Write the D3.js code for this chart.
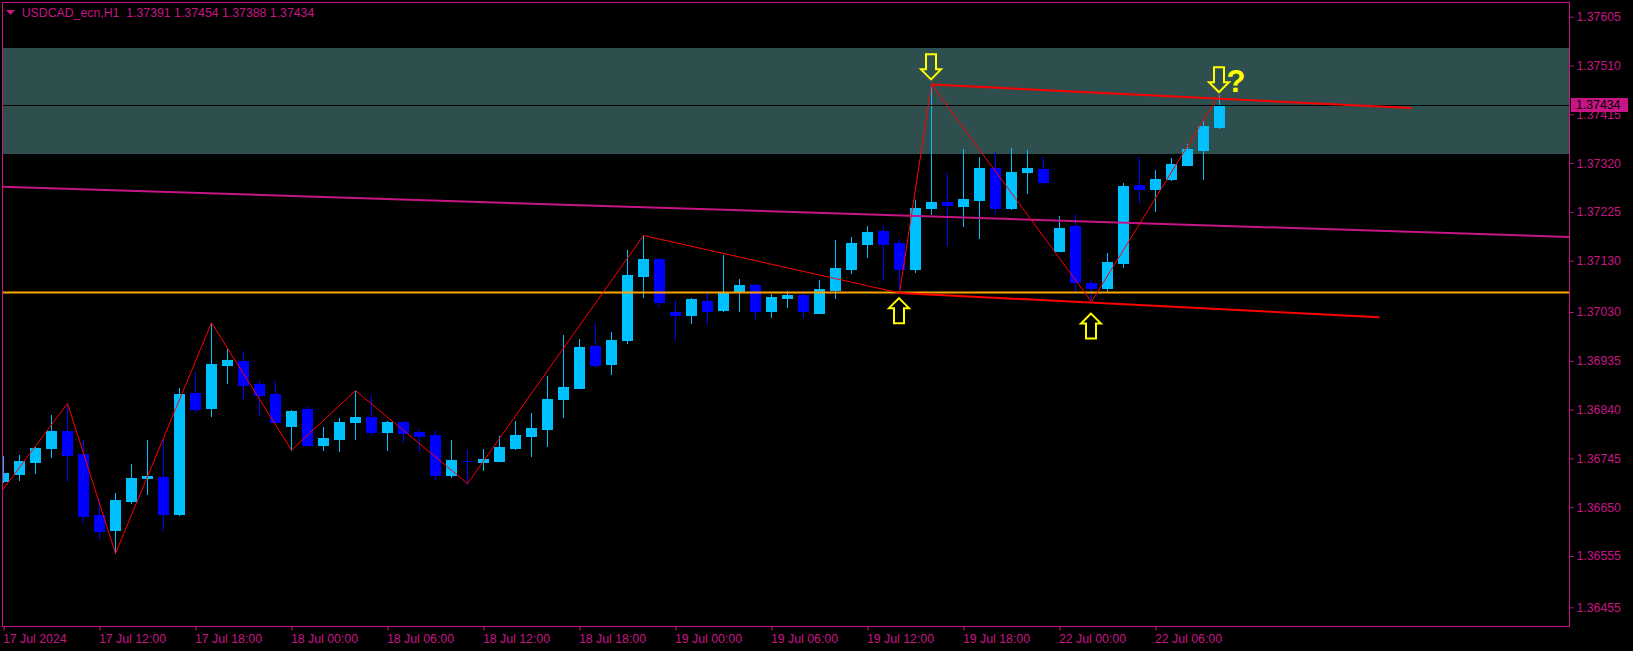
<!DOCTYPE html>
<html><head><meta charset="utf-8">
<script src="https://cdn.jsdelivr.net/npm/d3@7"></script>
<style>
html,body{margin:0;padding:0;background:#000;overflow:hidden}
svg{display:block}
text{font-family:"Liberation Sans",Arial,sans-serif}
</style></head><body>
<svg id="chart" width="1633" height="651"></svg>
<script>
// ---------------- DATA ----------------
const symbolTitle = "USDCAD_ecn,H1";
const barTimes = [
"2024.07.17 06:00","2024.07.17 07:00","2024.07.17 08:00","2024.07.17 09:00","2024.07.17 10:00","2024.07.17 11:00",
"2024.07.17 12:00","2024.07.17 13:00","2024.07.17 14:00","2024.07.17 15:00","2024.07.17 16:00","2024.07.17 17:00",
"2024.07.17 18:00","2024.07.17 19:00","2024.07.17 20:00","2024.07.17 21:00","2024.07.17 22:00","2024.07.17 23:00",
"2024.07.18 00:00","2024.07.18 01:00","2024.07.18 02:00","2024.07.18 03:00","2024.07.18 04:00","2024.07.18 05:00",
"2024.07.18 06:00","2024.07.18 07:00","2024.07.18 08:00","2024.07.18 09:00","2024.07.18 10:00","2024.07.18 11:00",
"2024.07.18 12:00","2024.07.18 13:00","2024.07.18 14:00","2024.07.18 15:00","2024.07.18 16:00","2024.07.18 17:00",
"2024.07.18 18:00","2024.07.18 19:00","2024.07.18 20:00","2024.07.18 21:00","2024.07.18 22:00","2024.07.18 23:00",
"2024.07.19 00:00","2024.07.19 01:00","2024.07.19 02:00","2024.07.19 03:00","2024.07.19 04:00","2024.07.19 05:00",
"2024.07.19 06:00","2024.07.19 07:00","2024.07.19 08:00","2024.07.19 09:00","2024.07.19 10:00","2024.07.19 11:00",
"2024.07.19 12:00","2024.07.19 13:00","2024.07.19 14:00","2024.07.19 15:00","2024.07.19 16:00","2024.07.19 17:00",
"2024.07.19 18:00","2024.07.19 19:00","2024.07.19 20:00","2024.07.19 21:00","2024.07.19 22:00","2024.07.19 23:00",
"2024.07.22 00:00","2024.07.22 01:00","2024.07.22 02:00","2024.07.22 03:00","2024.07.22 04:00","2024.07.22 05:00",
"2024.07.22 06:00","2024.07.22 07:00","2024.07.22 08:00","2024.07.22 09:00","2024.07.22 10:00"
];
const openP = [
1.36701,1.36715,1.36738,1.36766,1.36798,1.36754,1.36635,1.36606,1.36662,1.36707,
1.36709,1.36637,1.36872,1.36844,1.36927,1.36935,1.36890,1.36870,1.36809,1.36841,
1.36772,1.36783,1.36816,1.36826,1.36797,1.36816,1.36796,1.36790,1.36713,1.36740,
1.36738,1.36740,1.36765,1.36788,1.36802,1.36861,1.36882,1.36964,1.36929,1.36976,
1.37101,1.37133,1.37030,1.37025,1.37051,1.37033,1.37068,1.37083,1.37031,1.37058,
1.37063,1.37029,1.37073,1.37114,1.37163,1.37188,1.37164,1.37114,1.37233,1.37244,
1.37236,1.37248,1.37310,1.37232,1.37303,1.37308,1.37149,1.37197,1.37086,1.37077,
1.37126,1.37277,1.37270,1.37289,1.37316,1.37345,1.37391
];
const highP = [
1.36750,1.36752,1.36767,1.36829,1.36852,1.36781,1.36665,1.36678,1.36734,1.36781,
1.36781,1.36883,1.36914,1.37009,1.36959,1.36954,1.36898,1.36896,1.36839,1.36847,
1.36807,1.36824,1.36877,1.36868,1.36818,1.36818,1.36802,1.36800,1.36781,1.36761,
1.36763,1.36788,1.36818,1.36833,1.36905,1.36985,1.36977,1.37009,1.36991,1.37151,
1.37179,1.37135,1.37053,1.37057,1.37071,1.37141,1.37094,1.37085,1.37065,1.37071,
1.37071,1.37092,1.37170,1.37176,1.37197,1.37197,1.37172,1.37248,1.37473,1.37301,
1.37347,1.37332,1.37342,1.37349,1.37345,1.37332,1.37217,1.37221,1.37092,1.37145,
1.37281,1.37332,1.37306,1.37330,1.37357,1.37402,1.37454
];
const lowP = [
1.36699,1.36703,1.36717,1.36748,1.36701,1.36622,1.36589,1.36560,1.36658,1.36676,
1.36606,1.36635,1.36836,1.36828,1.36892,1.36860,1.36829,1.36815,1.36761,1.36771,
1.36761,1.36759,1.36783,1.36790,1.36761,1.36777,1.36760,1.36705,1.36709,1.36696,
1.36722,1.36740,1.36763,1.36750,1.36769,1.36826,1.36882,1.36923,1.36909,1.36970,
1.37059,1.37042,1.36976,1.37009,1.37007,1.37031,1.37031,1.37019,1.37021,1.37040,
1.37021,1.37029,1.37058,1.37105,1.37138,1.37092,1.37067,1.37108,1.37221,1.37160,
1.37197,1.37174,1.37223,1.37230,1.37262,1.37279,1.37148,1.37071,1.37050,1.37070,
1.37118,1.37242,1.37227,1.37287,1.37316,1.37289,1.37388
];
const closeP = [
1.36716,1.36740,1.36765,1.36798,1.36752,1.36633,1.36604,1.36664,1.36707,1.36711,
1.36637,1.36870,1.36841,1.36929,1.36937,1.36888,1.36868,1.36816,1.36837,1.36771,
1.36785,1.36816,1.36826,1.36797,1.36816,1.36794,1.36789,1.36713,1.36742,1.36739,
1.36744,1.36767,1.36790,1.36804,1.36861,1.36884,1.36962,1.36927,1.36976,1.37102,
1.37133,1.37050,1.37024,1.37055,1.37031,1.37068,1.37083,1.37031,1.37059,1.37063,
1.37031,1.37075,1.37116,1.37164,1.37186,1.37163,1.37114,1.37232,1.37244,1.37238,
1.37250,1.37310,1.37232,1.37303,1.37310,1.37283,1.37194,1.37089,1.37077,1.37127,
1.37275,1.37270,1.37289,1.37318,1.37347,1.37392,1.37434
];
const priceTicks = [1.37605,1.37510,1.37415,1.37320,1.37225,1.37130,1.37030,1.36935,1.36840,1.36745,1.36650,1.36555,1.36455];
const timeTickBars = ["2024.07.17 06:00","2024.07.17 12:00","2024.07.17 18:00","2024.07.18 00:00","2024.07.18 06:00",
  "2024.07.18 12:00","2024.07.18 18:00","2024.07.19 00:00","2024.07.19 06:00","2024.07.19 12:00","2024.07.19 18:00",
  "2024.07.22 00:00","2024.07.22 06:00"];
const timeTickLabels = ["17 Jul 2024","17 Jul 12:00","17 Jul 18:00","18 Jul 00:00","18 Jul 06:00","18 Jul 12:00",
  "18 Jul 18:00","19 Jul 00:00","19 Jul 06:00","19 Jul 12:00","19 Jul 18:00","22 Jul 00:00","22 Jul 06:00"];
// zigzag vertices (bar index, price)
const zigzagBars = [-2,4,7,13,18,22,29,40,56,58,68,76];
const zigzagPrices = [1.36603,1.36852,1.36560,1.37009,1.36761,1.36877,1.36696,1.37179,1.37067,1.37473,1.37050,1.37454];
// trend lines (bar index pairs, price pairs)
const upperTrendBars = [58,88];
const upperTrendPrices = [1.37473,1.37427];
const lowerTrendBars = [56,86];
const lowerTrendPrices = [1.37067,1.37020];
const channelBars = [0,76];
const channelPrices = [1.37274,1.37198];
const supportLevel = 1.37068;
const zoneTop = 1.37544, zoneBottom = 1.37338;
const downArrowBars = [58,76];
const downArrowPrices = [1.37483,1.37458];
const upArrowBars = [56,68];
const upArrowPrices = [1.37057,1.37027];
const noteBar = 76, notePrice = 1.37459, noteText = "?";

// ---------------- DRAW ----------------
const W = 1633, H = 651;
const L = 2, R = 1569, T = 2, B = 626;
const AXIS = "#C71585";
const svg = d3.select("#chart");
svg.append("rect").attr("width", W).attr("height", H).attr("fill", "#000");

const x = d3.scalePoint().domain(barTimes).range([3.5, 3.5 + 16 * (barTimes.length - 1)]);
const xi = i => x.range()[0] + i * x.step();
const y = d3.scaleLinear().domain([1.364167, 1.376336]).range([627, 2]);

const defs = svg.append("defs");
defs.append("clipPath").attr("id", "plot").append("rect").attr("x", L).attr("y", T).attr("width", R - L).attr("height", B - T);
const plot = svg.append("g").attr("clip-path", "url(#plot)");

// zone rectangle
plot.append("rect").attr("x", L).attr("width", R - L)
  .attr("y", Math.round(y(zoneTop))).attr("height", Math.round(y(zoneBottom)) - Math.round(y(zoneTop)))
  .attr("fill", "#2F4F4F");

// candles
const candles = plot.append("g");
barTimes.forEach((t, i) => {
  const o = openP[i], c = closeP[i], hi = highP[i], lo = lowP[i];
  const bull = c >= o;
  const col = bull ? "#00BFFF" : "#0000FF";
  const cx = x(t);
  candles.append("line").attr("x1", cx).attr("x2", cx)
    .attr("y1", Math.round(y(hi))).attr("y2", Math.round(y(lo)) + 1)
    .attr("stroke", col).attr("stroke-width", 1);
  const yt = Math.round(y(Math.max(o, c))), yb = Math.round(y(Math.min(o, c)));
  candles.append("rect").attr("x", cx - 5.5).attr("width", 11)
    .attr("y", yt).attr("height", Math.max(1, yb - yt + 1)).attr("fill", col);
});

// current price line
const last = closeP.length - 1;
plot.append("line").attr("x1", L).attr("x2", R)
  .attr("y1", Math.round(y(closeP[last])) + 0.5).attr("y2", Math.round(y(closeP[last])) + 0.5)
  .attr("stroke", "#000").attr("stroke-width", 1);

// channel line (extended across chart)
{
  const slope = (channelPrices[1] - channelPrices[0]) / (channelBars[1] - channelBars[0]);
  const b0 = -2, b1 = 110;
  plot.append("line")
    .attr("x1", xi(b0)).attr("y1", y(channelPrices[0] + slope * (b0 - channelBars[0])))
    .attr("x2", xi(b1)).attr("y2", y(channelPrices[0] + slope * (b1 - channelBars[0])))
    .attr("stroke", "#C71585").attr("stroke-width", 2);
}
// support horizontal
plot.append("line").attr("x1", L).attr("x2", R)
  .attr("y1", y(supportLevel)).attr("y2", y(supportLevel))
  .attr("stroke", "#FFA500").attr("stroke-width", 2);

// zigzag
const zz = zigzagBars.map((b, i) => [xi(b), y(zigzagPrices[i])]);
plot.append("path").attr("d", d3.line()(zz)).attr("fill", "none").attr("stroke", "#FF0000").attr("stroke-width", 1);

// trend lines
[[upperTrendBars, upperTrendPrices], [lowerTrendBars, lowerTrendPrices]].forEach(([bs, ps]) => {
  plot.append("line").attr("x1", xi(bs[0])).attr("y1", y(ps[0])).attr("x2", xi(bs[1])).attr("y2", y(ps[1]))
    .attr("stroke", "#FF0000").attr("stroke-width", 2);
});

// arrows
const downPath = "M0,0 L-10,-10 L-5,-10 L-5,-25 L5,-25 L5,-10 L10,-10 Z";
const upPath = "M0,0 L-10,10 L-5,10 L-5,25 L5,25 L5,10 L10,10 Z";
downArrowBars.forEach((b, i) => {
  plot.append("path").attr("d", downPath).attr("transform", `translate(${xi(b) - 0.5},${y(downArrowPrices[i])})`)
    .attr("fill", "none").attr("stroke", "#FFFF00").attr("stroke-width", 2).attr("stroke-linejoin", "miter");
});
upArrowBars.forEach((b, i) => {
  plot.append("path").attr("d", upPath).attr("transform", `translate(${xi(b) - 0.5},${y(upArrowPrices[i])})`)
    .attr("fill", "none").attr("stroke", "#FFFF00").attr("stroke-width", 2).attr("stroke-linejoin", "miter");
});
plot.append("text").attr("x", xi(noteBar) + 7).attr("y", y(notePrice))
  .attr("fill", "#FFFF00").attr("font-size", 31).attr("font-weight", "bold").text(noteText);

// border
svg.append("rect").attr("x", L + 0.5).attr("y", T + 0.5).attr("width", R - L).attr("height", B - T)
  .attr("fill", "none").attr("stroke", AXIS).attr("stroke-width", 1);

// price axis
const yAxis = svg.append("g").attr("transform", `translate(${R + 0.5},0)`)
  .call(d3.axisRight(y).tickValues(priceTicks).tickSize(4).tickPadding(3).tickFormat(d3.format(".5f")));
yAxis.select(".domain").remove();
yAxis.selectAll("line").attr("stroke", AXIS);
yAxis.selectAll("text").attr("fill", AXIS).attr("font-size", 12.3).attr("font-family", "Liberation Sans, Arial, sans-serif");

// current price label
const cy = y(closeP[last]);
svg.append("rect").attr("x", R + 2).attr("y", Math.round(cy) - 7).attr("width", 57).attr("height", 14).attr("fill", AXIS);
svg.append("text").attr("x", R + 7).attr("y", cy).attr("dy", "0.36em").attr("fill", "#000")
  .attr("font-size", 12.3).text(d3.format(".5f")(closeP[last]));

// time axis
const labelOf = new Map(timeTickBars.map((t, i) => [t, timeTickLabels[i]]));
const xAxis = svg.append("g").attr("transform", `translate(0,${B + 0.5})`)
  .call(d3.axisBottom(x).tickValues(timeTickBars).tickSize(4).tickPadding(4).tickFormat(d => labelOf.get(d)));
xAxis.select(".domain").remove();
xAxis.selectAll("line").attr("stroke", AXIS);
xAxis.selectAll("text").attr("fill", AXIS).attr("font-size", 12.3).attr("text-anchor", "start")
  .attr("x", -1).attr("font-family", "Liberation Sans, Arial, sans-serif");

// header
svg.append("path").attr("d", "M6,10 L15,10 L10.5,15 Z").attr("fill", AXIS);
svg.append("text").attr("x", 21.7).attr("y", 16.7).attr("fill", AXIS).attr("font-size", 12.3)
  .style("white-space", "pre")
  .text(`${symbolTitle}  ${d3.format(".5f")(openP[last])} ${d3.format(".5f")(highP[last])} ${d3.format(".5f")(lowP[last])} ${d3.format(".5f")(closeP[last])}`);
</script>
</body></html>
